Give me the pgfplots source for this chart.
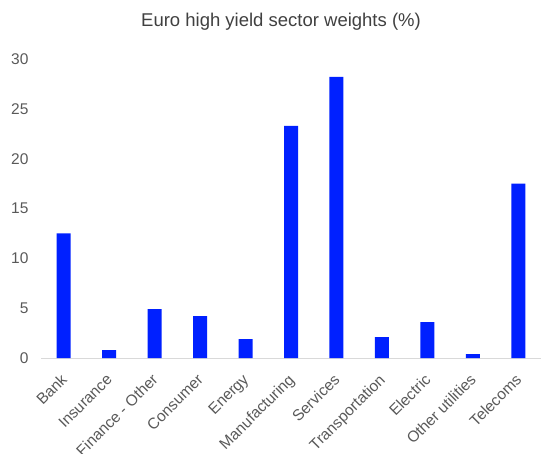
\documentclass[border=0pt]{standalone}
\usepackage{pgfplots}
\pgfplotsset{compat=1.18}
\usepackage{fontspec}
\setmainfont{Liberation Sans}
\definecolor{barblue}{RGB}{0,32,255}
\definecolor{txt}{RGB}{89,89,89}
\definecolor{ttl}{RGB}{64,64,64}
\definecolor{axgray}{RGB}{217,217,217}
\begin{document}
\begin{tikzpicture}[x=1pt,y=1pt]
\path[use as bounding box] (0,0) rectangle (552,453);
\node[text=ttl, font=\fontsize{18.5}{21}\selectfont] at (281,431) {Euro high yield sector weights (\%)};
\begin{axis}[
  at={(41pt,95pt)}, anchor=south west,
  scale only axis, width=500pt, height=299pt,
  xmin=-0.5, xmax=10.5, ymin=0, ymax=30,
  ytick={0,5,...,30},
  xtick={0,...,10},
  xticklabels={Bank,Insurance,Finance - Other,Consumer,Energy,Manufacturing,Services,Transportation,Electric,Other utilities,Telecoms},
  /pgf/number format/assume math mode=true,
  x tick label style={xshift=-3.8pt, yshift=-14.7pt, rotate=45, anchor=north east, font=\fontsize{15.5}{17}\selectfont, text=txt, inner sep=0pt},
  y tick label style={font=\fontsize{15.5}{17}\selectfont, text=txt, xshift=-9pt},
  axis x line=bottom, axis y line=left,
  x axis line style={-, draw=axgray, line width=1pt},
  y axis line style={draw=none},
  major tick length=0pt,
  tick style={draw=none},
  ybar, bar width=14pt,
  clip=false,
]
\addplot[fill=barblue, draw=none] coordinates {
(0,12.5) (1,0.8) (2,4.9) (3,4.2) (4,1.9) (5,23.3) (6,28.2) (7,2.1) (8,3.6) (9,0.4) (10,17.5)
};
\end{axis}
\end{tikzpicture}
\end{document}
